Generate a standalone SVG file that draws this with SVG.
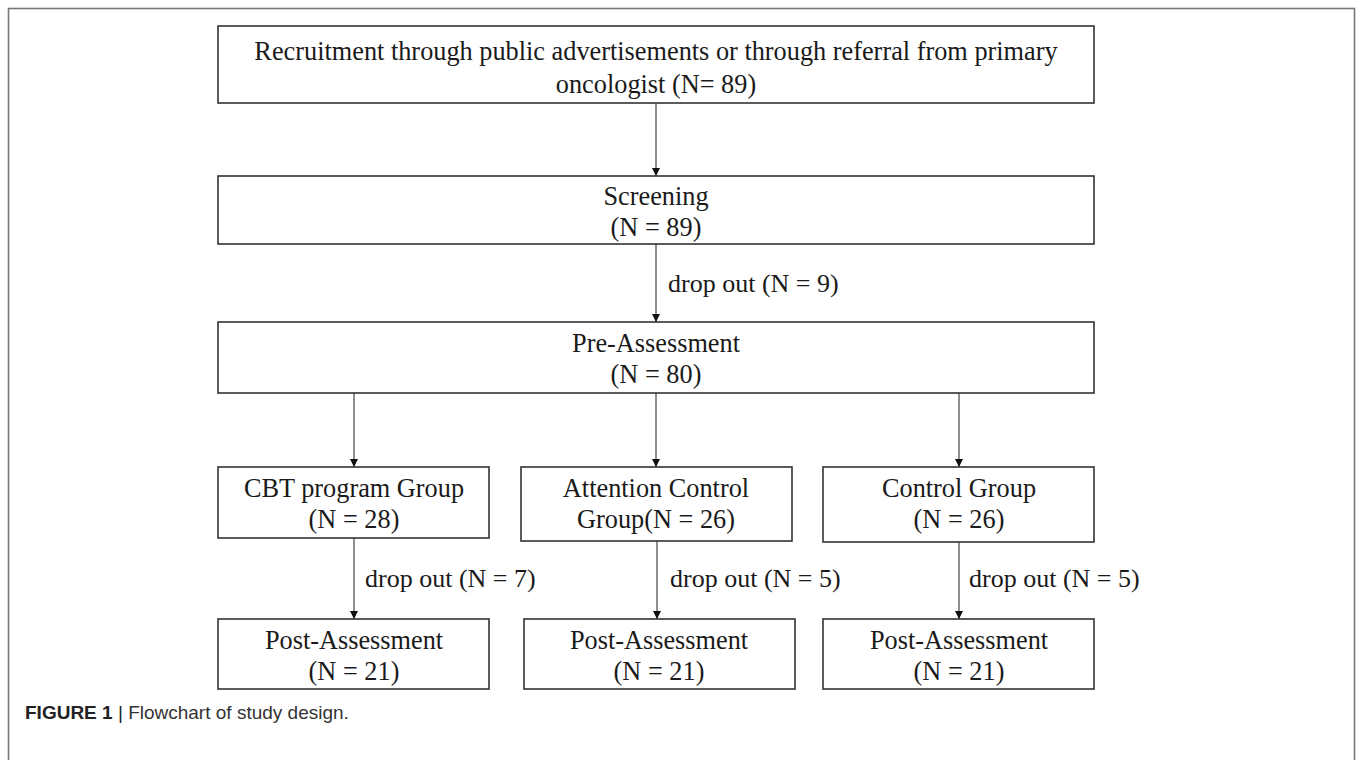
<svg xmlns="http://www.w3.org/2000/svg" width="1357" height="760" viewBox="0 0 1357 760">
<defs>
<style>
.box{fill:#fff;stroke:#333;stroke-width:1.6}
.t{font-family:"Liberation Serif","Times New Roman",serif;font-size:26.3px;fill:#1a1a1a;text-anchor:middle}
.lbl{font-family:"Liberation Serif","Times New Roman",serif;font-size:26px;fill:#1a1a1a}
.con line{stroke:#333;stroke-width:1.1;marker-end:url(#ah)}
.cap{font-family:"Liberation Sans",Arial,sans-serif;font-size:19px;fill:#333}
</style>
<marker id="ah" viewBox="0 0 10 10" refX="10" refY="5" markerWidth="8" markerHeight="8" markerUnits="userSpaceOnUse" orient="auto">
<path d="M0,0 L10,5 L0,10 Z" fill="#111"/>
</marker>
</defs>
<rect x="0" y="0" width="1357" height="760" fill="#fff"/>
<rect x="8.5" y="8.5" width="1346" height="800" fill="none" stroke="#777" stroke-width="1.6"/>

<g id="connectors" class="con">
<line x1="656" y1="103" x2="656" y2="176"/>
<line x1="656" y1="244" x2="656" y2="322"/>
<line x1="354" y1="393" x2="354" y2="467"/>
<line x1="656" y1="393" x2="656" y2="467"/>
<line x1="959" y1="393" x2="959" y2="467"/>
<line x1="354" y1="538" x2="354" y2="619"/>
<line x1="657" y1="541" x2="657" y2="619"/>
<line x1="959" y1="542" x2="959" y2="619"/>
</g>
<g id="labels">
<text class="lbl" x="668" y="292">drop out (N = 9)</text>
<text class="lbl" x="365" y="587">drop out (N = 7)</text>
<text class="lbl" x="670" y="587">drop out (N = 5)</text>
<text class="lbl" x="969" y="587">drop out (N = 5)</text>
</g>

<g id="recruitment">
<rect class="box" x="218" y="26" width="876" height="77"/>
<text class="t" x="656" y="60">Recruitment through public advertisements or through referral from primary</text>
<text class="t" x="656" y="93">oncologist (N= 89)</text>
</g>
<g id="screening">
<rect class="box" x="218" y="176" width="876" height="68"/>
<text class="t" x="656" y="205">Screening</text>
<text class="t" x="656" y="236">(N = 89)</text>
</g>
<g id="pre-assessment">
<rect class="box" x="218" y="322" width="876" height="71"/>
<text class="t" x="656" y="352">Pre-Assessment</text>
<text class="t" x="656" y="383">(N = 80)</text>
</g>
<g id="cbt-group">
<rect class="box" x="218" y="467" width="271" height="71"/>
<text class="t" x="354" y="497">CBT program Group</text>
<text class="t" x="354" y="528">(N = 28)</text>
</g>
<g id="attention-control">
<rect class="box" x="521" y="467" width="271" height="74"/>
<text class="t" x="656" y="497">Attention Control</text>
<text class="t" x="656" y="528">Group(N = 26)</text>
</g>
<g id="control-group">
<rect class="box" x="823" y="467" width="271" height="75"/>
<text class="t" x="959" y="497">Control Group</text>
<text class="t" x="959" y="528">(N = 26)</text>
</g>
<g id="post-cbt">
<rect class="box" x="218" y="619" width="271" height="70"/>
<text class="t" x="354" y="649">Post-Assessment</text>
<text class="t" x="354" y="680">(N = 21)</text>
</g>
<g id="post-attention">
<rect class="box" x="524" y="619" width="271" height="70"/>
<text class="t" x="659" y="649">Post-Assessment</text>
<text class="t" x="659" y="680">(N = 21)</text>
</g>
<g id="post-control">
<rect class="box" x="823" y="619" width="271" height="70"/>
<text class="t" x="959" y="649">Post-Assessment</text>
<text class="t" x="959" y="680">(N = 21)</text>
</g>

<text class="cap" x="25" y="719"><tspan font-weight="bold" fill="#222">FIGURE 1</tspan><tspan fill="#222"> | </tspan>Flowchart of study design.</text>
</svg>
